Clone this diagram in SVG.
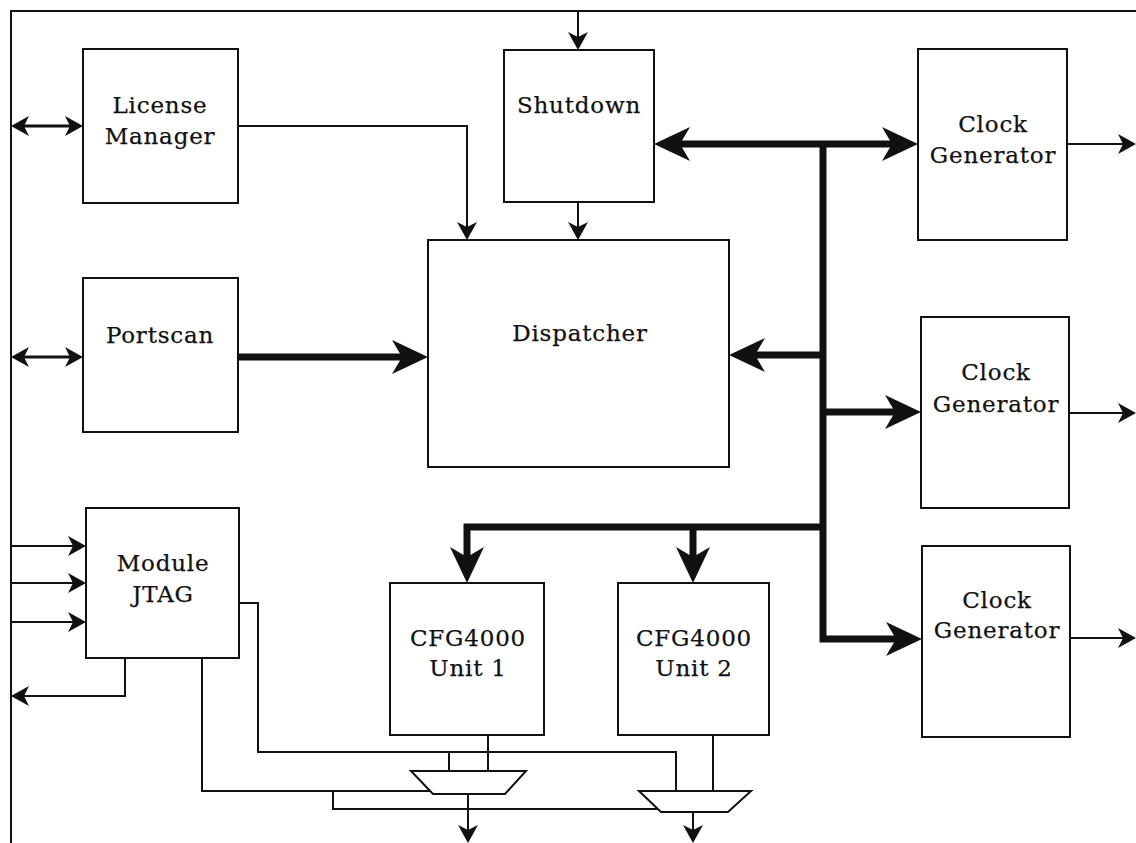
<svg xmlns="http://www.w3.org/2000/svg" width="1136" height="843" viewBox="0 0 1136 843">
  <style>
    .box { fill: #fff; stroke: #111; stroke-width: 2; }
    .lbl { font-family: "DejaVu Serif", "Liberation Serif", serif; font-size: 23px; letter-spacing: 0.8px; fill: #111; stroke: #111; stroke-width: 0.25; text-anchor: middle; }
    .thin { fill: none; stroke: #111; stroke-width: 2; }
    .dbl { fill: none; stroke: #111; stroke-width: 3; }
    .bus { fill: none; stroke: #111; stroke-width: 7; stroke-linejoin: miter; }
    .mux { fill: #fff; stroke: #111; stroke-width: 2; stroke-linejoin: miter; }
  </style>
  <defs>
    <!-- barbed heads; the reference point is the notch so the line tucks under the head -->
    <marker id="ah" markerUnits="userSpaceOnUse" markerWidth="40" markerHeight="40" refX="0" refY="0" viewBox="-10 -20 40 40" orient="auto-start-reverse" overflow="visible">
      <path d="M13,0 L-5,-10 L0,0 L-5,10 Z" fill="#111"/>
    </marker>
    <marker id="ahb" markerUnits="userSpaceOnUse" markerWidth="80" markerHeight="80" refX="0" refY="0" viewBox="-20 -40 80 80" orient="auto-start-reverse" overflow="visible">
      <path d="M26,0 L-10,-17 L0,0 L-10,17 Z" fill="#111"/>
    </marker>
  </defs>

  <rect width="1136" height="843" fill="#fff"/>

  <!-- module boundary -->
  <path class="thin" d="M11,843 L11,11 L1136,11"/>

  <g id="connectors">
    <!-- thin signals -->
    <path class="thin" d="M578,11 L578,37" marker-end="url(#ah)"/>
    <path class="thin" d="M578,202 L578,227" marker-end="url(#ah)"/>
    <path class="thin" d="M238,126 L467,126 L467,227" marker-end="url(#ah)"/>
    <path class="dbl" d="M24,126 L70,126" marker-start="url(#ah)" marker-end="url(#ah)"/>
    <path class="dbl" d="M24,357 L70,357" marker-start="url(#ah)" marker-end="url(#ah)"/>
    <path class="thin" d="M11,546 L73,546" marker-end="url(#ah)"/>
    <path class="thin" d="M11,583 L73,583" marker-end="url(#ah)"/>
    <path class="thin" d="M11,622 L73,622" marker-end="url(#ah)"/>
    <path class="thin" d="M125,658 L125,696 L24,696" marker-end="url(#ah)"/>
    <path class="thin" d="M1067,144 L1123,144" marker-end="url(#ah)"/>
    <path class="thin" d="M1069,413 L1123,413" marker-end="url(#ah)"/>
    <path class="thin" d="M1070,638 L1123,638" marker-end="url(#ah)"/>

    <!-- JTAG to multiplexers -->
    <path class="thin" d="M239,603 L258,603 L258,752 L676,752 L676,791"/>
    <path class="thin" d="M449,752 L449,771"/>
    <path class="thin" d="M202,658 L202,791 L430,791"/>
    <path class="thin" d="M333,791 L333,809 L657,809"/>
    <path class="thin" d="M488,735 L488,771"/>
    <path class="thin" d="M713,735 L713,791"/>
    <path class="thin" d="M468,794 L468,830" marker-end="url(#ah)"/>
    <path class="thin" d="M693,812 L693,830" marker-end="url(#ah)"/>

    <!-- wide buses -->
    <path class="bus" d="M238,357 L402,357" marker-end="url(#ahb)"/>
    <path class="bus" d="M823,355 L755,355" marker-end="url(#ahb)"/>
    <path class="bus" d="M680,144 L892,144" marker-start="url(#ahb)" marker-end="url(#ahb)"/>
    <path class="bus" d="M823,412 L895,412" marker-end="url(#ahb)"/>
    <path class="bus" d="M823,144 L823,639 L896,639" marker-end="url(#ahb)"/>
    <path class="bus" d="M823,527 L467,527 L467,557" marker-end="url(#ahb)"/>
    <path class="bus" d="M693,527 L693,557" marker-end="url(#ahb)"/>
  </g>

  <g id="license-manager">
    <rect class="box" x="83" y="49" width="155" height="154"/>
    <text class="lbl" x="160" y="113">License</text>
    <text class="lbl" x="160" y="144">Manager</text>
  </g>
  <g id="portscan">
    <rect class="box" x="83" y="278" width="155" height="154"/>
    <text class="lbl" x="160" y="343">Portscan</text>
  </g>
  <g id="module-jtag">
    <rect class="box" x="86" y="508" width="153" height="150"/>
    <text class="lbl" x="163" y="571">Module</text>
    <text class="lbl" x="163" y="602">JTAG</text>
  </g>
  <g id="shutdown">
    <rect class="box" x="504" y="50" width="150" height="152"/>
    <text class="lbl" x="579" y="113">Shutdown</text>
  </g>
  <g id="dispatcher">
    <rect class="box" x="428" y="240" width="301" height="227"/>
    <text class="lbl" x="580" y="341">Dispatcher</text>
  </g>
  <g id="clock-generator-1">
    <rect class="box" x="918" y="49" width="149" height="191"/>
    <text class="lbl" x="993" y="132">Clock</text>
    <text class="lbl" x="993" y="163">Generator</text>
  </g>
  <g id="clock-generator-2">
    <rect class="box" x="921" y="317" width="148" height="191"/>
    <text class="lbl" x="996" y="380">Clock</text>
    <text class="lbl" x="996" y="412">Generator</text>
  </g>
  <g id="clock-generator-3">
    <rect class="box" x="922" y="546" width="148" height="191"/>
    <text class="lbl" x="997" y="608">Clock</text>
    <text class="lbl" x="997" y="638">Generator</text>
  </g>
  <g id="cfg-unit-1">
    <rect class="box" x="390" y="583" width="154" height="152"/>
    <text class="lbl" x="468" y="646">CFG4000</text>
    <text class="lbl" x="468" y="676">Unit 1</text>
  </g>
  <g id="cfg-unit-2">
    <rect class="box" x="618" y="583" width="151" height="152"/>
    <text class="lbl" x="694" y="646">CFG4000</text>
    <text class="lbl" x="694" y="676">Unit 2</text>
  </g>
  <g id="mux-1">
    <polygon class="mux" points="411,771 526,771 505,794 433,794"/>
  </g>
  <g id="mux-2">
    <polygon class="mux" points="639,791 751,791 728,812 661,812"/>
  </g>
</svg>
